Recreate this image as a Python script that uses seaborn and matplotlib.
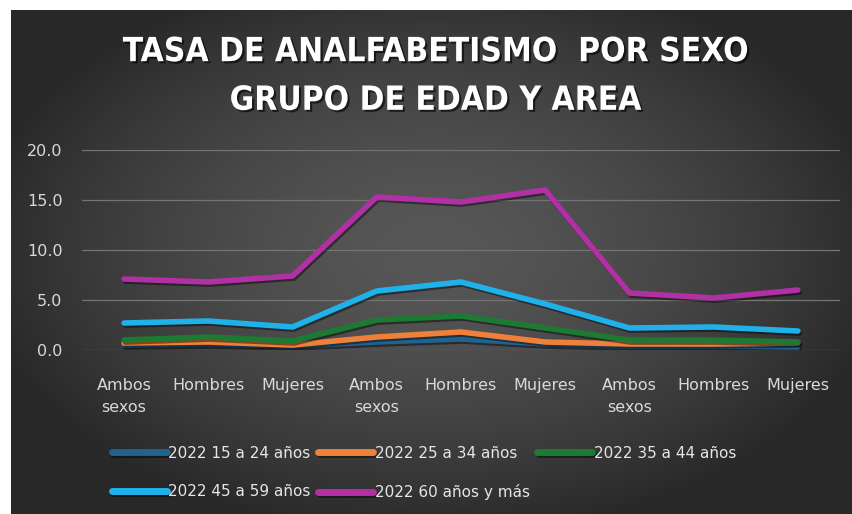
import numpy as np
import pandas as pd
import matplotlib
matplotlib.use("Agg")
import matplotlib.pyplot as plt
import matplotlib.patheffects as pe
import seaborn as sns

categories = ["Ambos\nsexos", "Hombres", "Mujeres",
              "Ambos\nsexos", "Hombres", "Mujeres",
              "Ambos\nsexos", "Hombres", "Mujeres"]
series_names = ["2022 15 a 24 años", "2022 25 a 34 años", "2022 35 a 44 años",
                "2022 45 a 59 años", "2022 60 años y más"]
s15_24 = [0.5, 0.6, 0.4, 0.8, 1.1, 0.6, 0.4, 0.4, 0.3]
s25_34 = [0.7, 0.8, 0.5, 1.3, 1.8, 0.8, 0.6, 0.6, 0.7]
s35_44 = [1.0, 1.3, 0.9, 3.0, 3.4, 2.2, 1.0, 1.0, 0.8]
s45_59 = [2.7, 2.9, 2.3, 5.9, 6.8, 4.6, 2.2, 2.3, 1.9]
s60 = [7.1, 6.8, 7.4, 15.3, 14.8, 16.0, 5.7, 5.2, 6.0]
yticks = [0.0, 5.0, 10.0, 15.0, 20.0]
title = "TASA DE ANALFABETISMO  POR SEXO\nGRUPO DE EDAD Y AREA"
colors = ["#22628f", "#f07f3a", "#1d7a32", "#1fb2ea", "#b22fa6"]

W, H = 853, 514
fig = plt.figure(figsize=(W / 100, H / 100), dpi=100)
fig.patch.set_facecolor("white")

# background gradient
bg = fig.add_axes([11 / W, 0, 1 - 11 / W, 1 - 10 / H])
yy, xx = np.mgrid[-1:1:300j, -1:1:500j]
r = np.sqrt((xx / 1.05) ** 2 + ((yy + 0.05) / 1.1) ** 2)
val = np.clip(0.34 - 0.17 * r ** 1.6, 0.16, 0.4)
img = np.dstack([val, val, val])
bg.imshow(img, aspect="auto", extent=[0, 1, 0, 1], interpolation="bilinear")
bg.set_axis_off()

sns.set_style("dark")
ax = fig.add_axes([82 / W, (H - 350) / H, (840 - 82) / W, 200 / H])
ax.patch.set_alpha(0)

rows = []
vals = [s15_24, s25_34, s35_44, s45_59, s60]
for name, v in zip(series_names, vals):
    for i, y in enumerate(v):
        rows.append({"x": i, "y": y, "serie": name})
df = pd.DataFrame(rows)

sns.lineplot(data=df, x="x", y="y", hue="serie", hue_order=series_names,
             palette=colors, linewidth=4, ax=ax, sort=False, legend=True,
             solid_capstyle="round", solid_joinstyle="round")
for ln in ax.get_lines():
    ln.set_path_effects([pe.SimpleLineShadow(offset=(1, -1.5), alpha=0.45, shadow_color="black"), pe.Normal()])

ax.set_xlim(-0.5, len(categories) - 0.5)
ax.set_ylim(0, 20)
ax.set_yticks(yticks)
ax.set_yticklabels([f"{t:.1f}" for t in yticks])
ax.set_xticks(range(len(categories)))
ax.set_xticklabels(categories, linespacing=1.6, ha="center")
ax.grid(axis="y", color="#747474", linewidth=0.9)
ax.grid(axis="x", visible=False)
for s in ax.spines.values():
    s.set_visible(False)
ax.tick_params(axis="both", length=0, colors="#d9d9d9", labelsize=11.5)
ax.tick_params(axis="x", pad=20)
ax.tick_params(axis="y", pad=14)
ax.set_xlabel("")
ax.set_ylabel("")

h, l = ax.get_legend_handles_labels()
ax.get_legend().remove()
order = [0, 3, 1, 4, 2]
leg = fig.legend([h[i] for i in order], [l[i] for i in order], ncol=3, loc="upper left",
                 bbox_to_anchor=(98 / W, 1 - 432 / H),
                 frameon=False, fontsize=11, handlelength=3.6, handletextpad=0.1,
                 columnspacing=0.5, labelspacing=1.55, labelcolor="#e6e6e6")
for lh in leg.get_lines():
    lh.set_linewidth(5)
    lh.set_solid_capstyle("round")

fig.text(436 / W, 1 - 76 / H, title, ha="center", va="center", color="white",
         fontsize=24, fontweight="bold", linespacing=1.6, fontstretch="condensed",
         path_effects=[pe.withSimplePatchShadow(offset=(1.5, -1.5), shadow_rgbFace="black", alpha=0.6)])

fig.savefig("out.png", dpi=100, facecolor="white")
